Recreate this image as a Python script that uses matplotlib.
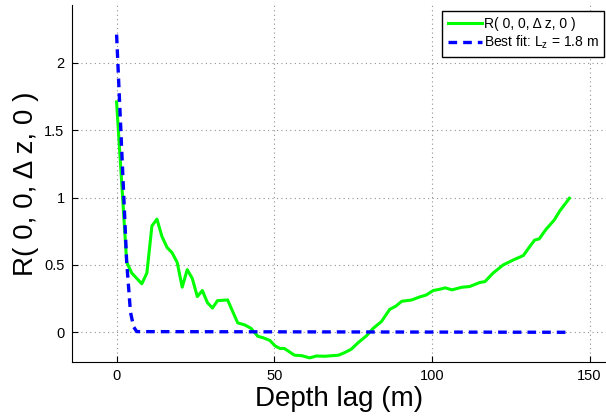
import numpy as np
import matplotlib.pyplot as plt

plt.rcParams['font.family'] = ['Liberation Sans', 'DejaVu Sans']
plt.rcParams['mathtext.default'] = 'regular'

# measured vertical correlation vs depth lag
lag = [0, 3.2, 4.8, 8.0, 9.6, 11.2, 12.8, 14.4, 16.0, 17.6, 19.2, 20.8, 22.4,
       24.0, 25.6, 27.2, 28.8, 30.4, 32.0, 35.2, 38.4, 40.6, 42.6, 44.8, 46.4,
       48.6, 50.2, 51.8, 53.2, 56.4, 58.8, 61.2, 63.4, 66.0, 68.2, 70.4, 72.4,
       74.4, 76.6, 79.2, 81.4, 84.0, 86.6, 88.6, 90.4, 93.6, 95.8, 98.2, 100.4,
       102.6, 104.2, 106.4, 109.4, 112.0, 115.2, 116.8, 119.4, 122.6, 125.8,
       129.0, 131.0, 132.6, 134.0, 136.2, 138.8, 140.6, 143.6]
corr = [1.71, 0.52, 0.44, 0.36, 0.44, 0.79, 0.84, 0.71, 0.63, 0.59, 0.52, 0.335,
        0.465, 0.40, 0.265, 0.31, 0.22, 0.18, 0.235, 0.24, 0.07, 0.055, 0.03,
        -0.03, -0.04, -0.06, -0.10, -0.12, -0.12, -0.17, -0.174, -0.19, -0.176,
        -0.178, -0.174, -0.17, -0.15, -0.126, -0.077, -0.027, 0.03, 0.08, 0.17,
        0.195, 0.23, 0.24, 0.26, 0.277, 0.31, 0.32, 0.33, 0.315, 0.334, 0.34,
        0.37, 0.376, 0.44, 0.50, 0.537, 0.57, 0.636, 0.685, 0.693, 0.765, 0.834,
        0.903, 0.995]

# exponential fit
lag_fit = [0, 3.2, 4.4, 5.4, 6.4, 143.6]
corr_fit = [2.21, 0.52, 0.15, 0.04, 0.005, 0.0]

fig = plt.figure(figsize=(6.06, 4.16), dpi=100)
ax = fig.add_axes([0.118, 0.13, 0.882, 0.858])

ax.plot(lag, corr, color='#00ff00', lw=2.2, label='R( 0, 0, \u0394 z, 0 )', zorder=3)
ax.plot(lag_fit, corr_fit, color='#0000ff', lw=2.4, ls=(0, (2.6, 1.8)),
        label='Best fit: L$_z$ = 1.8 m', zorder=4)

ax.set_xlim(-14.3, 155.2)
ax.set_ylim(-0.22, 2.43)
ax.set_xticks([0, 50, 100, 150])
ax.set_yticks([0, 0.5, 1, 1.5, 2])
ax.set_yticklabels(['0', '0.5', '1', '1.5', '2'])

ax.grid(True, color='#909090', ls=(0, (1, 3)), lw=0.8)
ax.spines['top'].set_visible(False)
ax.spines['right'].set_visible(False)
for s in ('left', 'bottom'):
    ax.spines[s].set_linewidth(0.8)
ax.tick_params(direction='in', length=4, width=0.8, labelsize=10.5, pad=5)

ax.set_xlabel('Depth lag (m)', fontsize=20, labelpad=2)
ax.set_ylabel('R( 0, 0, \u0394 z, 0 )', fontsize=20, labelpad=4)

leg = ax.legend(loc='upper right', bbox_to_anchor=(0.997, 0.982), fontsize=10,
                fancybox=False, framealpha=1, edgecolor='black',
                handlelength=2.45, handletextpad=0.15, labelspacing=0.2,
                borderpad=0.4, borderaxespad=0)
leg.get_frame().set_linewidth(1.0)

fig.savefig('out.png', dpi=100)
